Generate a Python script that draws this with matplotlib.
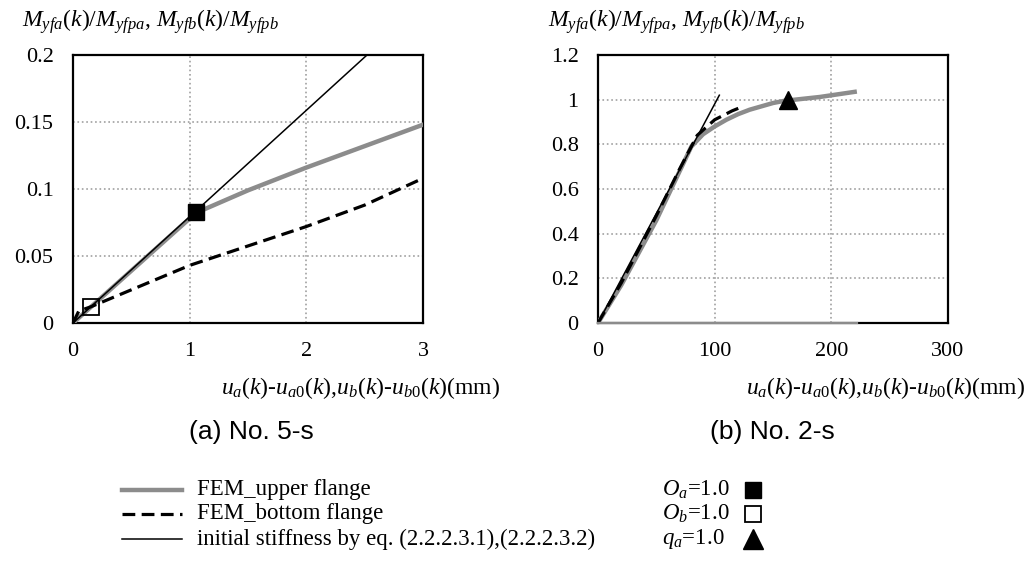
import numpy as np
import matplotlib.pyplot as plt
from matplotlib.lines import Line2D

plt.rcParams['font.family'] = ['Liberation Serif', 'DejaVu Serif']
plt.rcParams['mathtext.fontset'] = 'custom'
plt.rcParams['mathtext.rm'] = 'Liberation Serif'
plt.rcParams['mathtext.it'] = 'Liberation Serif:italic'

# (a) No. 5-s
a_upper_x = [0, 0.5, 1.0, 1.05, 1.5, 2.0, 2.5, 3.0]
a_upper_y = [0, 0.039, 0.078, 0.082, 0.099, 0.116, 0.132, 0.148]
a_bottom_x = [0, 0.05, 0.15, 1.0, 2.0, 2.5, 3.0]
a_bottom_y = [0, 0.009, 0.012, 0.043, 0.072, 0.088, 0.108]
a_init_x = [0, 2.52]
a_init_y = [0, 0.2]
a_oa = (1.05, 0.083)
a_ob = (0.15, 0.012)

# (b) No. 2-s
b_upper_x = [0, 20, 50, 80, 90, 100, 110, 120, 130, 140, 150, 160, 190, 220]
b_upper_y = [0, 0.17, 0.46, 0.79, 0.845, 0.88, 0.91, 0.935, 0.955, 0.97, 0.985, 0.995, 1.012, 1.035]
b_bottom_x = [0, 20, 50, 70, 85, 100, 115, 123]
b_bottom_y = [0, 0.18, 0.48, 0.69, 0.84, 0.91, 0.95, 0.967]
b_init_x = [0, 104]
b_init_y = [0, 1.02]
b_zero_x = [0, 222]
b_zero_y = [0, 0]
b_qa = (163, 1.0)

W, H = 1033, 568
fig = plt.figure(figsize=(W / 100, H / 100), dpi=100)

gray = '#8c8c8c'
ylab = r'$M_{yfa}(k)/M_{yfpa}$, $M_{yfb}(k)/M_{yfpb}$'
xlab = r'$u_a(k)$-$u_{a0}(k)$,$u_b(k)$-$u_{b0}(k)$(mm)'


def style(ax, xlim, ylim, xt, yt, ytl):
    ax.set_xlim(*xlim)
    ax.set_ylim(*ylim)
    ax.set_xticks(xt)
    ax.set_yticks(yt)
    ax.set_yticklabels(ytl)
    ax.tick_params(length=0, labelsize=16, pad=14)
    ax.grid(True, color='#a0a0a0', linestyle=':', linewidth=1.2)
    for s in ax.spines.values():
        s.set_linewidth(1.6)
        s.set_color('black')
    ax.set_axisbelow(True)


ax1 = fig.add_axes([73 / W, 1 - 323 / H, 350 / W, 268 / H])
ax1.plot(a_init_x, a_init_y, color='black', lw=1.1, zorder=4)
ax1.plot(a_upper_x, a_upper_y, color=gray, lw=3.2, zorder=3)
ax1.plot(a_bottom_x, a_bottom_y, color='black', lw=2.3, ls=(0, (4, 2)), zorder=3)
ax1.plot(*a_oa, marker='s', ms=11, color='black', zorder=5)
ax1.plot(*a_ob, marker='s', ms=11, mfc='none', mec='black', mew=1.3, zorder=5)
style(ax1, (0, 3), (0, 0.2), [0, 1, 2, 3], [0, 0.05, 0.1, 0.15, 0.2],
      ['0', '0.05', '0.1', '0.15', '0.2'])

ax2 = fig.add_axes([598 / W, 1 - 323 / H, 350 / W, 268 / H])
ax2.plot(b_zero_x, b_zero_y, color=gray, lw=1.6, zorder=6, clip_on=False)
ax2.plot(b_init_x, b_init_y, color='black', lw=1.1, zorder=4)
ax2.plot(b_upper_x, b_upper_y, color=gray, lw=3.2, zorder=3)
ax2.plot(b_bottom_x, b_bottom_y, color='black', lw=2.3, ls=(0, (4, 2)), zorder=3)
ax2.plot(*b_qa, marker='^', ms=13, color='black', zorder=5)
style(ax2, (0, 300), (0, 1.2), [0, 100, 200, 300], [0, 0.2, 0.4, 0.6, 0.8, 1.0, 1.2],
      ['0', '0.2', '0.4', '0.6', '0.8', '1', '1.2'])

# axis titles
fig.text(22 / W, 1 - 22 / H, ylab, fontsize=17, ha='left', va='center')
fig.text(548 / W, 1 - 22 / H, ylab, fontsize=17, ha='left', va='center')
fig.text(500 / W, 1 - 388 / H, xlab, fontsize=17, ha='right', va='center')
fig.text(1025 / W, 1 - 388 / H, xlab, fontsize=17, ha='right', va='center')

# panel captions
fig.text(251 / W, 1 - 432 / H, '(a) No. 5-s', fontsize=19, family='Liberation Sans',
         ha='center', va='center')
fig.text(772 / W, 1 - 432 / H, '(b) No. 2-s', fontsize=19, family='Liberation Sans',
         ha='center', va='center')

# legend (drawn by hand in figure coords)
rows = [490, 514, 539]
line_styles = [dict(color=gray, lw=3.2), dict(color='black', lw=2.3, ls=(0, (4, 2))),
               dict(color='black', lw=1.1)]
labels = ['FEM_upper flange', 'FEM_bottom flange',
          'initial stiffness by eq. (2.2.2.3.1),(2.2.2.3.2)']
for r, st, lab in zip(rows, line_styles, labels):
    fig.add_artist(Line2D([122 / W, 182 / W], [1 - r / H, 1 - r / H], **st))
    fig.text(197 / W, 1 - r / H, lab, fontsize=16.5, ha='left', va='center')

mlabels = [r'$O_a$=1.0', r'$O_b$=1.0', r'$q_a$=1.0']
mstyles = [dict(marker='s', ms=12, color='black'),
           dict(marker='s', ms=12, mfc='none', mec='black', mew=1.3),
           dict(marker='^', ms=14, color='black')]
for r, st, lab in zip(rows, mstyles, mlabels):
    fig.text(662 / W, 1 - r / H, lab, fontsize=16.5, ha='left', va='center')
    fig.add_artist(Line2D([753 / W], [1 - r / H], ls='none', **st))

fig.savefig('out.png', dpi=100)
